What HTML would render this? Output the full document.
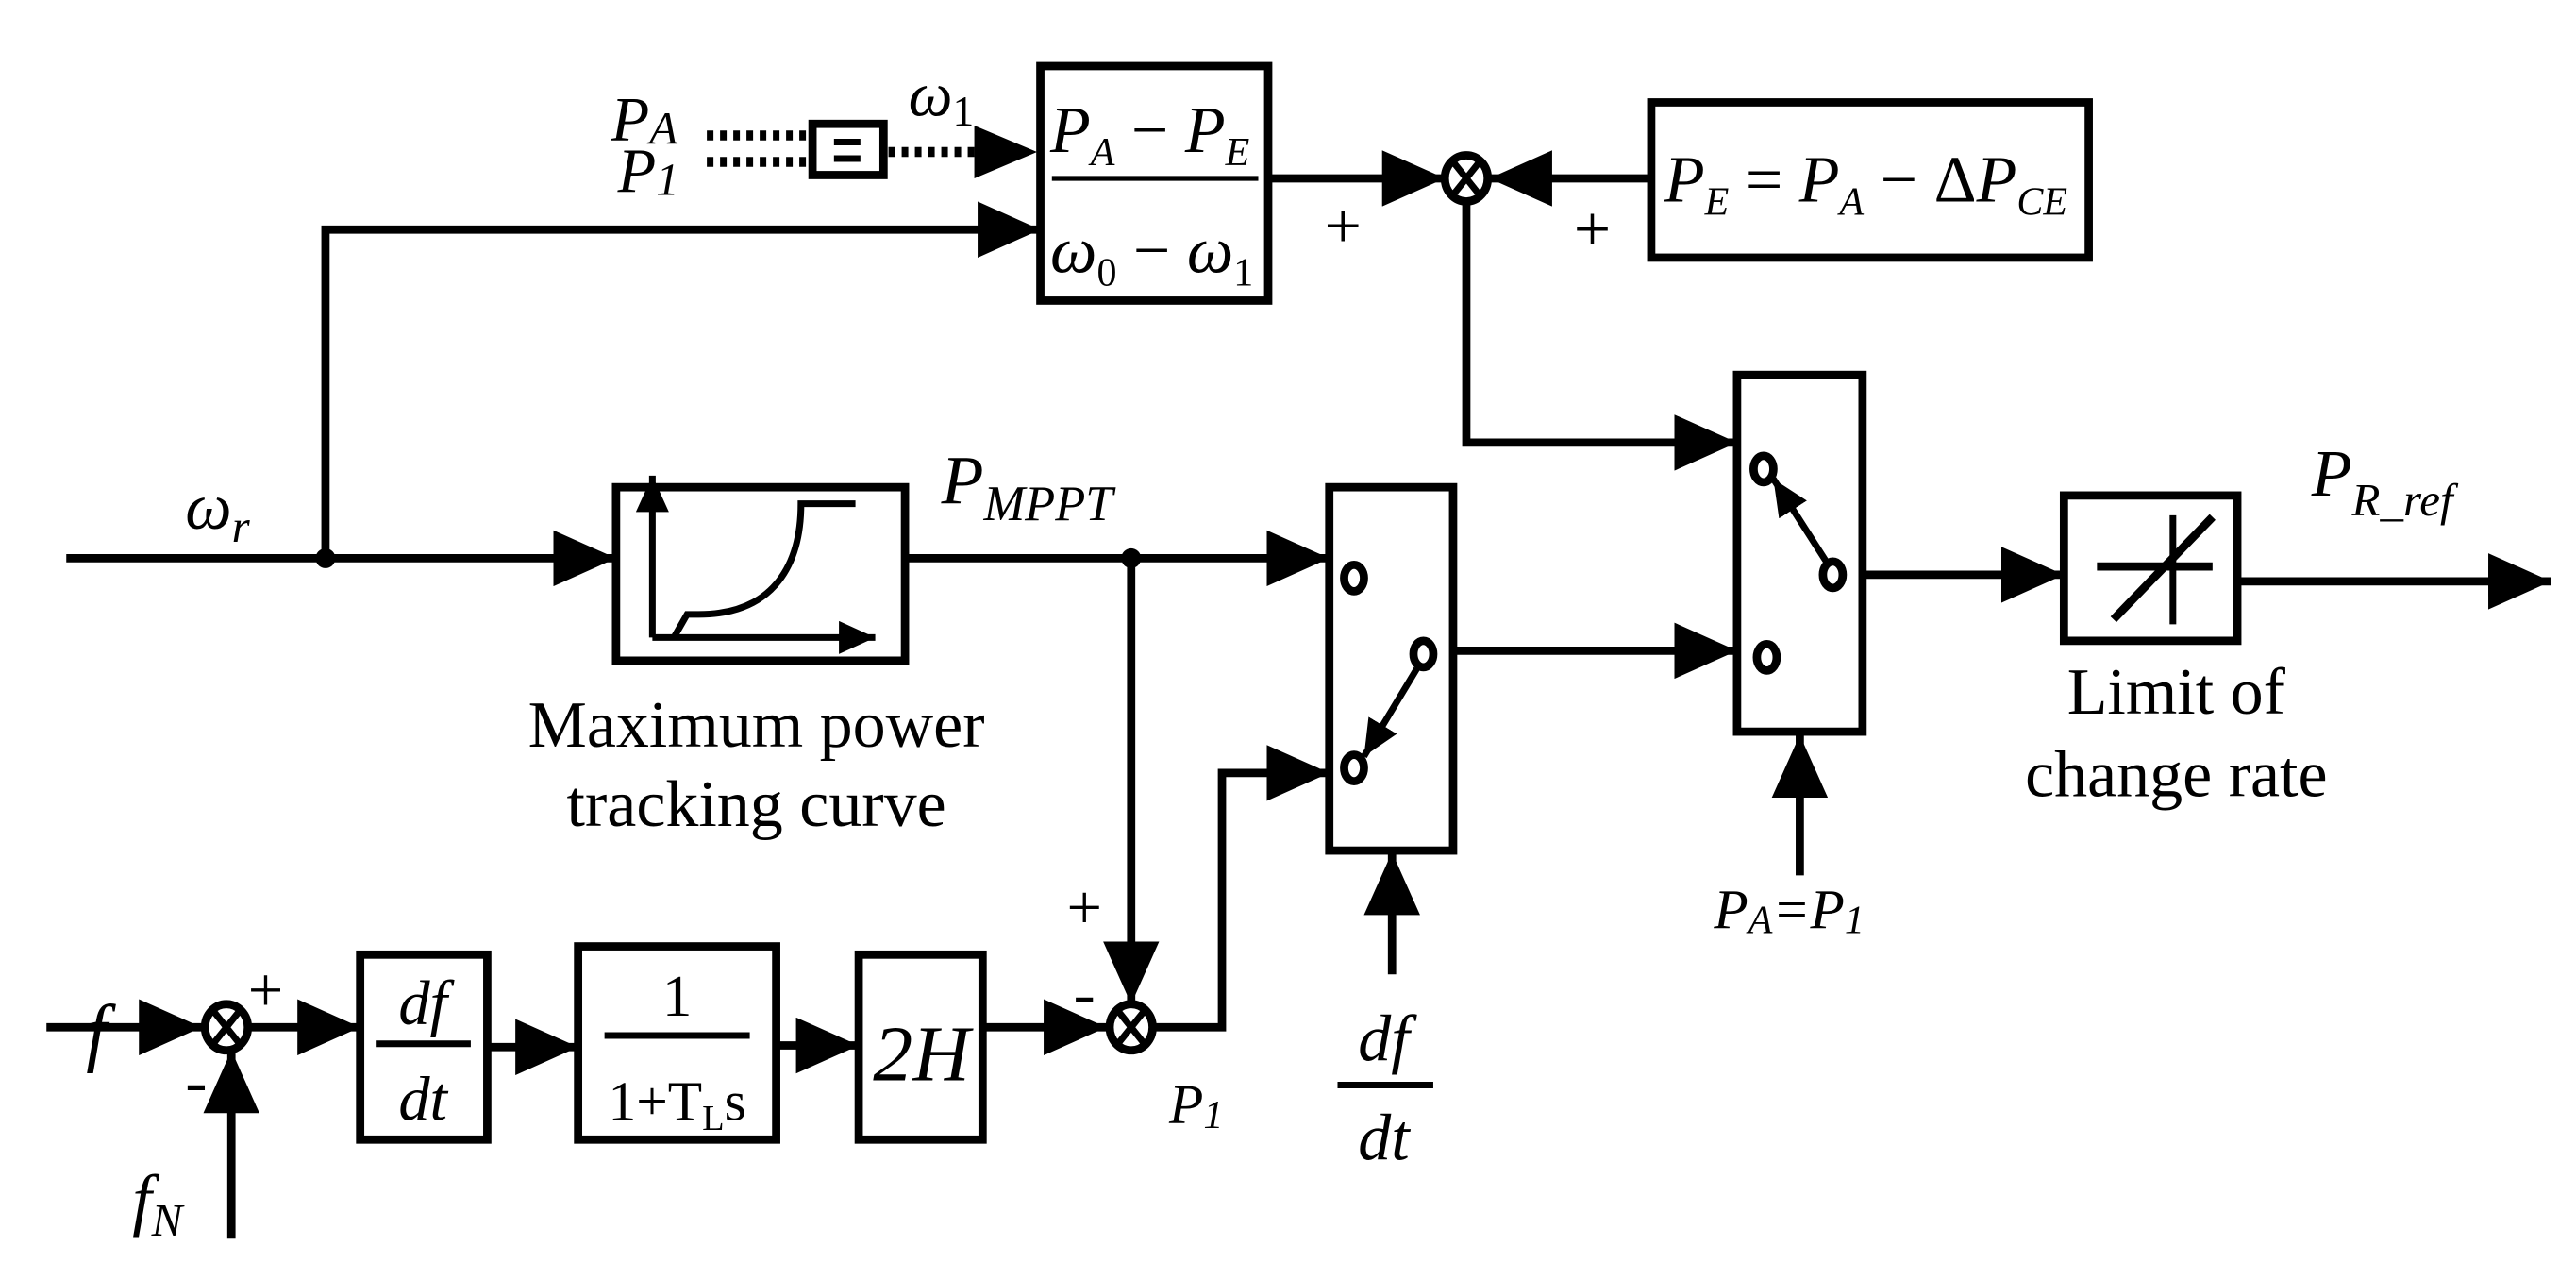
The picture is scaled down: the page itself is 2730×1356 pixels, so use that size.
<!DOCTYPE html>
<html><head><meta charset="utf-8"><style>
html,body{margin:0;padding:0;background:#fff}
svg{display:block}
text{font-family:"Liberation Serif",serif;fill:#000}
.i{font-style:italic}
</style></head><body>
<svg width="2730" height="1356" viewBox="0 0 1560 775" xmlns="http://www.w3.org/2000/svg">
<defs>
<marker id="a" markerUnits="userSpaceOnUse" markerWidth="40" markerHeight="34" refX="38" refY="17" orient="auto">
<polygon points="0,0 38,17 0,34" fill="#000"/></marker>
<marker id="s" markerUnits="userSpaceOnUse" markerWidth="24" markerHeight="20" refX="22" refY="10" orient="auto">
<polygon points="0,0 22,10 0,20" fill="#000"/></marker>
</defs>
<g stroke="#000" stroke-width="5" fill="none">
<line x1="428" y1="82" x2="492" y2="82" stroke-dasharray="4,4" stroke-width="6"/>
<line x1="428" y1="98" x2="492" y2="98" stroke-dasharray="4,4" stroke-width="6"/>
<rect x="492" y="75" width="43" height="31"/>
<line x1="505" y1="86" x2="521" y2="86" stroke-width="4"/>
<line x1="505" y1="96" x2="521" y2="96" stroke-width="4"/>
<line x1="538" y1="92" x2="592" y2="92" stroke-dasharray="4,4" stroke-width="6"/>
<polygon points="590,76 628,92 590,108" fill="#000" stroke="none"/>
<rect x="630" y="40" width="138" height="142"/>
<line x1="637" y1="108" x2="762" y2="108" stroke-width="3"/>
<line x1="40" y1="338" x2="373" y2="338" marker-end="url(#a)"/>
<polyline points="197,338 197,139 630,139" marker-end="url(#a)"/>
<circle cx="197" cy="338" r="6" fill="#000" stroke="none"/>
<line x1="768" y1="108" x2="875" y2="108" marker-end="url(#a)"/>
<line x1="1000" y1="108" x2="902" y2="108" marker-end="url(#a)"/>
<ellipse cx="888" cy="108" rx="13" ry="14" fill="#fff"/>
<line x1="880" y1="98" x2="896" y2="118" stroke-width="4"/>
<line x1="896" y1="98" x2="880" y2="118" stroke-width="4"/>
<rect x="1000" y="62" width="265" height="94"/>
<polyline points="888,122 888,268 1052,268" marker-end="url(#a)"/>
<rect x="1052" y="227" width="76" height="216"/>
<ellipse cx="1068" cy="284" rx="6" ry="8"/>
<ellipse cx="1110" cy="348" rx="6" ry="8"/>
<ellipse cx="1070" cy="398" rx="6" ry="8"/>
<line x1="1106" y1="340" x2="1074" y2="290" stroke-width="4" marker-end="url(#s)"/>
<line x1="1128" y1="348" x2="1250" y2="348" marker-end="url(#a)"/>
<rect x="1250" y="300" width="105" height="88"/>
<line x1="1270" y1="343" x2="1340" y2="343"/>
<line x1="1316" y1="312" x2="1316" y2="378" stroke-width="4"/>
<line x1="1280" y1="375" x2="1340" y2="313"/>
<line x1="1355" y1="352" x2="1545" y2="352" marker-end="url(#a)"/>
<line x1="1090" y1="530" x2="1090" y2="445" marker-end="url(#a)"/>
<rect x="373" y="295" width="175" height="105"/>
<line x1="395" y1="386" x2="395" y2="288" marker-end="url(#s)" stroke-width="4"/>
<line x1="395" y1="386" x2="530" y2="386" marker-end="url(#s)" stroke-width="4"/>
<path d="M408,386 L416,372 L423,372 C470,372 485,340 485,305 L518,305" stroke-width="4"/>
<line x1="548" y1="338" x2="805" y2="338" marker-end="url(#a)"/>
<circle cx="685" cy="338" r="6" fill="#000" stroke="none"/>
<line x1="685" y1="338" x2="685" y2="608" marker-end="url(#a)"/>
<rect x="805" y="295" width="75" height="220"/>
<ellipse cx="820" cy="350" rx="6" ry="8"/>
<ellipse cx="862" cy="396" rx="6" ry="8"/>
<ellipse cx="820" cy="465" rx="6" ry="8"/>
<line x1="858" y1="405" x2="826" y2="458" stroke-width="4" marker-end="url(#s)"/>
<line x1="880" y1="394" x2="1052" y2="394" marker-end="url(#a)"/>
<line x1="843" y1="590" x2="843" y2="516" marker-end="url(#a)"/>
<line x1="810" y1="657" x2="868" y2="657" stroke-width="4"/>
<line x1="28" y1="622" x2="122" y2="622" marker-end="url(#a)"/>
<line x1="140" y1="750" x2="140" y2="636" marker-end="url(#a)"/>
<ellipse cx="137" cy="622" rx="13" ry="14" fill="#fff"/>
<line x1="129" y1="612" x2="145" y2="632" stroke-width="4"/>
<line x1="145" y1="612" x2="129" y2="632" stroke-width="4"/>
<line x1="150" y1="622" x2="218" y2="622" marker-end="url(#a)"/>
<rect x="218" y="578" width="77" height="112"/>
<line x1="228" y1="632" x2="285" y2="632" stroke-width="4"/>
<line x1="295" y1="634" x2="350" y2="634" marker-end="url(#a)"/>
<rect x="350" y="573" width="120" height="117"/>
<line x1="366" y1="627" x2="454" y2="627" stroke-width="4"/>
<line x1="470" y1="633" x2="520" y2="633" marker-end="url(#a)"/>
<rect x="520" y="578" width="75" height="112"/>
<line x1="595" y1="622" x2="670" y2="622" marker-end="url(#a)"/>
<ellipse cx="685" cy="622" rx="13" ry="14" fill="#fff"/>
<line x1="677" y1="612" x2="693" y2="632" stroke-width="4"/>
<line x1="693" y1="612" x2="677" y2="632" stroke-width="4"/>
<polyline points="699,622 740,622 740,468 805,468" marker-end="url(#a)"/>
</g>
<text x="370" y="85" class="i" font-size="38">P<tspan font-size="28" dy="2">A</tspan></text>
<text x="374" y="116" class="i" font-size="38">P<tspan font-size="28" dy="2">1</tspan></text>
<text x="550" y="70" class="i" font-size="38">ω<tspan font-size="26" dy="6" font-style="normal">1</tspan></text>
<text x="636" y="92" class="i" font-size="40">P<tspan font-size="24" dy="8">A</tspan><tspan dy="-8" font-style="normal"> − </tspan>P<tspan font-size="24" dy="8">E</tspan></text>
<text x="636" y="165" class="i" font-size="40">ω<tspan font-size="24" dy="8" font-style="normal">0</tspan><tspan dy="-8" font-style="normal"> − </tspan>ω<tspan font-size="24" dy="8" font-style="normal">1</tspan></text>
<text x="802" y="150" font-size="40">+</text>
<text x="953" y="152" font-size="40">+</text>
<text x="1008" y="122" class="i" font-size="40">P<tspan font-size="24" dy="8">E</tspan><tspan dy="-8" font-style="normal"> = </tspan>P<tspan font-size="24" dy="8">A</tspan><tspan dy="-8" font-style="normal"> − Δ</tspan>P<tspan font-size="24" dy="8">CE</tspan></text>
<text x="112" y="320" class="i" font-size="40">ω<tspan font-size="28" dy="8">r</tspan></text>
<text x="570" y="305" class="i" font-size="42">P<tspan font-size="30" dy="10">MPPT</tspan></text>
<text x="1400" y="300" class="i" font-size="40">P<tspan font-size="28" dy="12">R_ref</tspan></text>
<text x="458" y="452" font-size="40" text-anchor="middle">Maximum power</text>
<text x="458" y="500" font-size="40" text-anchor="middle">tracking curve</text>
<text x="1318" y="432" font-size="40" text-anchor="middle">Limit of</text>
<text x="1318" y="482" font-size="40" text-anchor="middle">change rate</text>
<text x="1038" y="562" class="i" font-size="34">P<tspan font-size="24" dy="3">A</tspan><tspan dy="-3">=P</tspan><tspan font-size="24" dy="3">1</tspan></text>
<text x="52" y="640" class="i" font-size="46">f</text>
<text x="150" y="612" font-size="38">+</text>
<text x="112" y="668" font-size="40">-</text>
<text x="80" y="740" class="i" font-size="42">f<tspan font-size="28" dy="8">N</tspan></text>
<text x="256" y="620" class="i" font-size="38" text-anchor="middle">df</text>
<text x="256" y="678" class="i" font-size="38" text-anchor="middle">dt</text>
<text x="410" y="615" font-size="36" text-anchor="middle">1</text>
<text x="410" y="678" font-size="34" text-anchor="middle">1+T<tspan font-size="22" dy="6">L</tspan><tspan dy="-6">s</tspan></text>
<text x="558" y="654" class="i" font-size="48" text-anchor="middle">2H</text>
<text x="646" y="562" font-size="38">+</text>
<text x="650" y="615" font-size="40">-</text>
<text x="708" y="680" class="i" font-size="34">P<tspan font-size="24" dy="3">1</tspan></text>
<text x="838" y="642" class="i" font-size="40" text-anchor="middle">df</text>
<text x="838" y="702" class="i" font-size="40" text-anchor="middle">dt</text>
</svg>
</body></html>
